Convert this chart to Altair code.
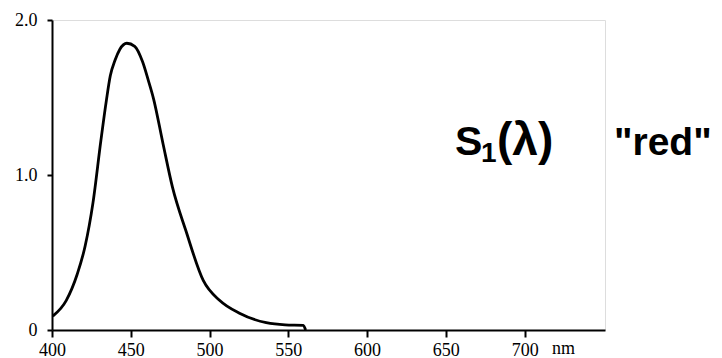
import altair as alt
import pandas as pd

# Spectral curve S1(lambda)
wavelength = [400.5, 409, 416, 421, 426, 431, 434.5, 437, 440, 443, 447.5, 452.5,
              457.5, 461, 464.5, 470.5, 476.5, 485, 496, 506.5, 519, 536, 548, 559.5, 561]
s1 = [0.09, 0.19, 0.36, 0.54, 0.82, 1.22, 1.48, 1.64, 1.74, 1.81, 1.85, 1.83,
      1.73, 1.615, 1.49, 1.2, 0.92, 0.64, 0.32, 0.19, 0.108, 0.047, 0.033, 0.03, 0.0]

x_ticks = [400, 450, 500, 550, 600, 650, 700]
y_ticks = [0, 1, 2]

df = pd.DataFrame({"wl": wavelength, "s": s1})

W, H = 553, 310
serif = "Liberation Serif"
sans = "Liberation Sans"

label_expr = "datum.value == 0 ? '0' : format(datum.value, '.1f')"

curve = alt.Chart(df).mark_line(
    color="black", strokeWidth=2.8, interpolate="monotone", clip=False
).encode(
    x=alt.X("wl:Q", scale=alt.Scale(domain=[400, 751], nice=False, zero=False),
            axis=alt.Axis(values=x_ticks, title=None, grid=False, domainColor="black",
                          domainWidth=2, tickColor="black", tickWidth=2, tickSize=7,
                          labelFont=serif, labelFontSize=18, labelColor="black",
                          labelPadding=4, labelFlush=False)),
    y=alt.Y("s:Q", scale=alt.Scale(domain=[0, 2], nice=False),
            axis=alt.Axis(values=y_ticks, title=None, grid=False, domainColor="black",
                          domainWidth=2, tickColor="black", tickWidth=2, tickSize=5,
                          labelFont=serif, labelFontSize=18, labelColor="black",
                          labelPadding=10, labelExpr=label_expr, labelFlush=False)),
)

def txt(s, x, y, font, size, weight="normal"):
    return alt.Chart(pd.DataFrame({"t": [s]})).mark_text(
        align="left", baseline="alphabetic", font=font, fontSize=size,
        fontWeight=weight, color="black"
    ).encode(text="t:N", x=alt.value(x), y=alt.value(y))

layers = [
    curve,
    txt("S", 403, 135, sans, 41, "bold"),
    txt("1", 429, 142, sans, 28, "bold"),
    txt("(λ)", 445, 135, sans, 46, "bold"),
    txt('"red"', 562, 135, sans, 39, "bold"),
    txt("nm", 500, 334, serif, 18),
]

chart = alt.layer(*layers).properties(
    width=W, height=H,
    autosize=alt.AutoSizeParams(type="none"),
    padding={"left": 44, "top": 12, "right": 109, "bottom": 28},
).configure_view(stroke=None).configure(background="white")

chart.save("out.html", embed_options={"renderer": "svg", "actions": False})
